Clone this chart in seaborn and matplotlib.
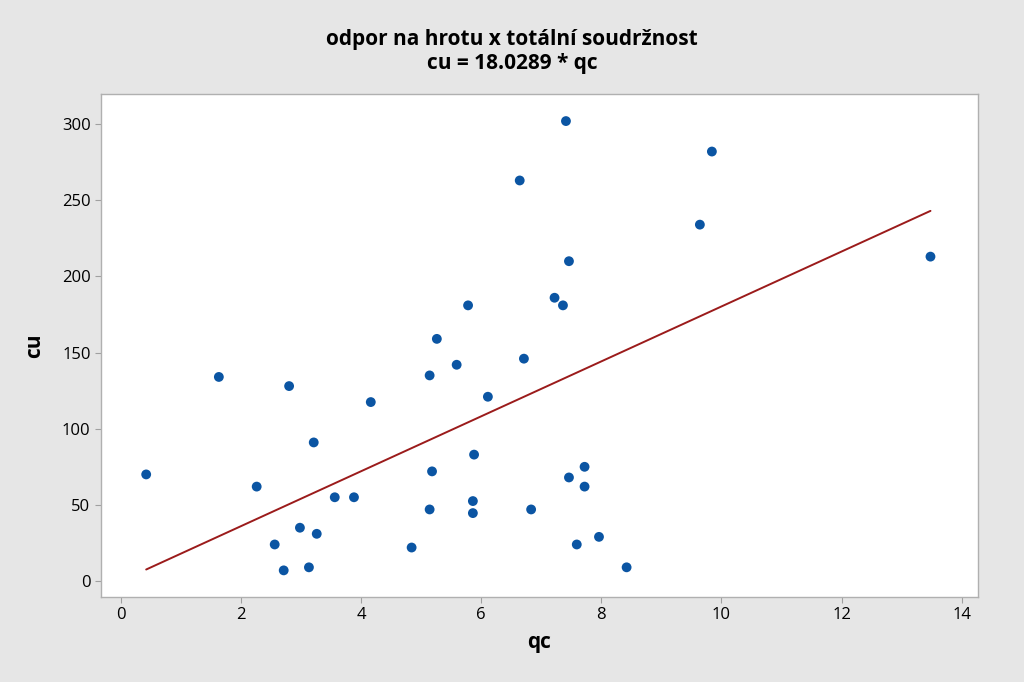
import numpy as np
import pandas as pd
import seaborn as sns
import matplotlib
matplotlib.use("Agg")
import matplotlib.pyplot as plt

qc = [0.42, 1.63, 2.26, 2.56, 2.71, 2.80, 2.98, 3.13, 3.21, 3.26,
      3.56, 3.88, 4.16, 4.84, 5.14, 5.14, 5.18, 5.26, 5.59, 5.78,
      5.88, 5.86, 5.86, 6.11, 6.64, 6.71, 6.83, 7.22, 7.36, 7.41,
      7.46, 7.46, 7.59, 7.72, 7.72, 7.96, 8.42, 9.64, 9.84, 13.48]
cu = [70, 134, 62, 24, 7, 128, 35, 9, 91, 31,
      55, 55, 117.5, 22, 135, 47, 72, 159, 142, 181,
      83, 52.5, 44.6, 121, 263, 146, 47, 186, 181, 302,
      210, 68, 24, 75, 62, 29, 9, 234, 282, 213]
slope = 18.0289

data = pd.DataFrame({"qc": qc, "cu": cu})
fit = pd.DataFrame({"qc": [min(qc), max(qc)]})
fit["cu"] = slope * fit["qc"]

sns.set_style("white")
plt.rcParams["font.family"] = ["Open Sans", "DejaVu Sans"]
plt.rcParams["text.color"] = "black"
plt.rcParams["axes.labelcolor"] = "black"

fig = plt.figure(figsize=(10.24, 6.82), dpi=100, facecolor="#e6e6e6")
ax = fig.add_axes([0.0986, 0.1246, 0.8564, 0.7374])
ax.set_facecolor("white")

sns.lineplot(data=fit, x="qc", y="cu", ax=ax, color="#9b1b1b", linewidth=1.4)
sns.scatterplot(data=data, x="qc", y="cu", ax=ax, color="#0b55a3", s=50,
                edgecolor="none", zorder=3)

ax.set_xlim(-0.333, 14.27)
ax.set_ylim(-10.5, 319.7)
ax.set_xticks([0, 2, 4, 6, 8, 10, 12, 14])
ax.set_yticks([0, 50, 100, 150, 200, 250, 300])
ax.tick_params(axis="both", direction="out", length=4, width=0.8, color="#a0a0a0",
               labelsize=12, labelcolor="black", bottom=True, left=True)
for sp in ax.spines.values():
    sp.set_color("#b0b0b0")
    sp.set_linewidth(1.0)

ax.set_xlabel("qc", fontsize=15, fontweight="bold", labelpad=6)
ax.set_ylabel("cu", fontsize=15, fontweight="bold", labelpad=12)
fig.suptitle("odpor na hrotu x totální soudržnost\ncu = 18.0289 * qc",
             fontsize=15, fontweight="bold", y=0.958, linespacing=1.2,
             color="black")

fig.savefig("out.png", dpi=100, facecolor=fig.get_facecolor())
